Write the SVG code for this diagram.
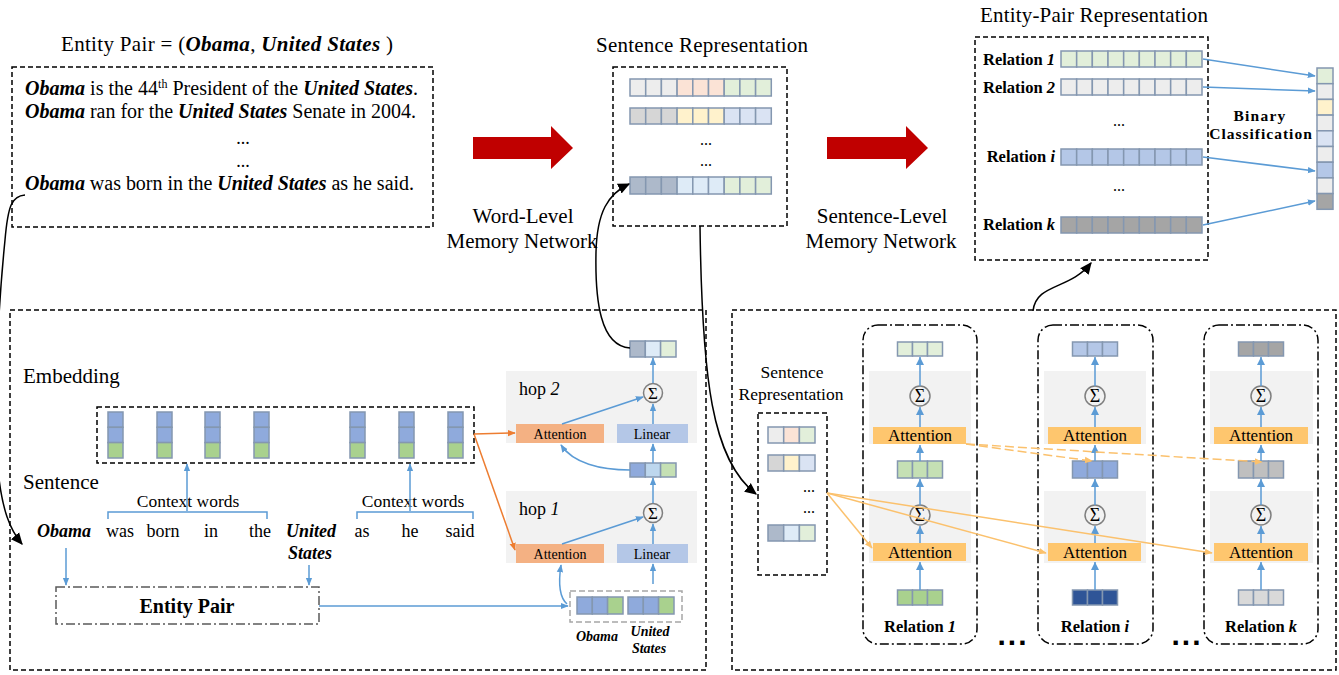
<svg xmlns="http://www.w3.org/2000/svg" width="1339" height="675" viewBox="0 0 1339 675">
<defs>
<style>
text{font-family:"Liberation Serif","Times New Roman",serif;fill:#000}
text.sq{font-family:"Liberation Sans",Arial,sans-serif;font-weight:bold}
.c{stroke:#8497b0;stroke-width:1.5}
.dash{fill:none;stroke:#000;stroke-width:1.5;stroke-dasharray:5 3}
.dd{fill:none;stroke:#000;stroke-width:1.5;stroke-dasharray:9 3 2 3}
.ddg{fill:none;stroke:#595959;stroke-width:1.5;stroke-dasharray:9 3 2 3}
.gd{fill:none;stroke:#a6a6a6;stroke-width:1.5;stroke-dasharray:6 3}
.blue{fill:none;stroke:#5b9bd5;stroke-width:1.5}
.or{fill:none;stroke:#ed7d31;stroke-width:1.5}
.lo{fill:none;stroke:#fbc16d;stroke-width:1.5}
.lod{fill:none;stroke:#fbc16d;stroke-width:1.5;stroke-dasharray:9 4}
.blk{fill:none;stroke:#000;stroke-width:1.5}
.panel{fill:#f2f2f2}
.att{fill:#f4b183}
.lin{fill:#b4c7e7}
.att2{fill:#fec66e}
.sig{fill:none;stroke:#7f7f7f;stroke-width:1.5}
.b{font-weight:bold}
.i{font-style:italic}
.bi{font-weight:bold;font-style:italic}
.red{fill:#c00000}
</style>
<marker id="mb" viewBox="0 0 10 10" refX="9" refY="5" markerWidth="8" markerHeight="8" markerUnits="userSpaceOnUse" orient="auto"><path d="M0,1 L10,5 L0,9 z" fill="#5b9bd5"/></marker>
<marker id="mo" viewBox="0 0 10 10" refX="9" refY="5" markerWidth="8" markerHeight="8" markerUnits="userSpaceOnUse" orient="auto"><path d="M0,1 L10,5 L0,9 z" fill="#ed7d31"/></marker>
<marker id="ml" viewBox="0 0 10 10" refX="9" refY="5" markerWidth="8" markerHeight="8" markerUnits="userSpaceOnUse" orient="auto"><path d="M0,1 L10,5 L0,9 z" fill="#fbc16d"/></marker>
<marker id="mk" viewBox="0 0 10 10" refX="9" refY="5" markerWidth="12" markerHeight="12" markerUnits="userSpaceOnUse" orient="auto"><path d="M0,0.5 L10,5 L0,9.5 z" fill="#000"/></marker>
</defs>
<rect width="1339" height="675" fill="#fff"/>

<!-- sentence bag -->
<g id="bag">
<text x="61" y="51" font-size="21" textLength="332" lengthAdjust="spacing">Entity  Pair = (<tspan class="bi">Obama</tspan>, <tspan class="bi">United States</tspan> )</text>
<rect class="dash" x="12" y="67" width="421" height="160"/>
<text x="25" y="95" font-size="20" textLength="393" lengthAdjust="spacing"><tspan class="bi">Obama</tspan> is the 44<tspan font-size="12" dy="-7">th</tspan><tspan dy="7"> President of the </tspan><tspan class="bi">United States</tspan>.</text>
<text x="25" y="118" font-size="20" textLength="391" lengthAdjust="spacing"><tspan class="bi">Obama</tspan> ran for the <tspan class="bi">United States</tspan> Senate in 2004.</text>
<text x="243" y="144" font-size="18" text-anchor="middle">...</text>
<text x="243" y="167" font-size="18" text-anchor="middle">...</text>
<text x="25" y="190" font-size="20" textLength="389" lengthAdjust="spacing"><tspan class="bi">Obama</tspan> was born in the <tspan class="bi">United States</tspan> as he said.</text>
</g>

<!-- flow arrows -->
<g id="flow">
<polygon class="red" points="473,137 551,137 551,126 573,148 551,169 551,159 473,159"/>
<polygon class="red" points="827,137 906,137 906,126 928,148 906,169 906,159 827,159"/>
<text x="523" y="223" font-size="21" text-anchor="middle">Word-Level</text>
<text x="522" y="248" font-size="21" text-anchor="middle">Memory Network</text>
<text x="882" y="223" font-size="21" text-anchor="middle">Sentence-Level</text>
<text x="881" y="248" font-size="21" text-anchor="middle">Memory Network</text>
</g>

<!-- sentence representation -->
<g id="sentrep">
<text x="596" y="52" font-size="21" textLength="212" lengthAdjust="spacing">Sentence  Representation</text>
<rect class="dash" x="613" y="67" width="174" height="159"/>
<g class="c">
<rect x="630" y="79" width="15.7" height="17" fill="#ededed"/><rect x="645.7" y="79" width="15.7" height="17" fill="#ededed"/><rect x="661.4" y="79" width="15.7" height="17" fill="#ededed"/>
<rect x="677.1" y="79" width="15.7" height="17" fill="#fbe3d6"/><rect x="692.8" y="79" width="15.7" height="17" fill="#fbe3d6"/><rect x="708.5" y="79" width="15.7" height="17" fill="#fbe3d6"/>
<rect x="724.2" y="79" width="15.7" height="17" fill="#e2efda"/><rect x="739.9" y="79" width="15.7" height="17" fill="#e2efda"/><rect x="755.6" y="79" width="15.7" height="17" fill="#e2efda"/>
<rect x="630" y="108" width="15.7" height="16" fill="#d6d6d6"/><rect x="645.7" y="108" width="15.7" height="16" fill="#d6d6d6"/><rect x="661.4" y="108" width="15.7" height="16" fill="#d6d6d6"/>
<rect x="677.1" y="108" width="15.7" height="16" fill="#fff2cc"/><rect x="692.8" y="108" width="15.7" height="16" fill="#fff2cc"/><rect x="708.5" y="108" width="15.7" height="16" fill="#fff2cc"/>
<rect x="724.2" y="108" width="15.7" height="16" fill="#dae3f3"/><rect x="739.9" y="108" width="15.7" height="16" fill="#dae3f3"/><rect x="755.6" y="108" width="15.7" height="16" fill="#dae3f3"/>
<rect x="630" y="177" width="15.7" height="17" fill="#adb9ca"/><rect x="645.7" y="177" width="15.7" height="17" fill="#adb9ca"/><rect x="661.4" y="177" width="15.7" height="17" fill="#adb9ca"/>
<rect x="677.1" y="177" width="15.7" height="17" fill="#deebf7"/><rect x="692.8" y="177" width="15.7" height="17" fill="#deebf7"/><rect x="708.5" y="177" width="15.7" height="17" fill="#deebf7"/>
<rect x="724.2" y="177" width="15.7" height="17" fill="#e2efda"/><rect x="739.9" y="177" width="15.7" height="17" fill="#e2efda"/><rect x="755.6" y="177" width="15.7" height="17" fill="#e2efda"/>
</g>
<text x="706" y="145" font-size="16" text-anchor="middle">...</text>
<text x="706" y="166" font-size="16" text-anchor="middle">...</text>
</g>

<!-- entity-pair representation -->
<g id="eprep">
<text x="980" y="22" font-size="21" textLength="228" lengthAdjust="spacing">Entity-Pair  Representation</text>
<rect class="dash" x="975" y="37" width="233" height="223"/>
<g class="c">
<rect x="1061" y="51" width="15.67" height="16" fill="#e2efda"/><rect x="1076.67" y="51" width="15.67" height="16" fill="#e2efda"/><rect x="1092.33" y="51" width="15.67" height="16" fill="#e2efda"/><rect x="1108" y="51" width="15.67" height="16" fill="#e2efda"/><rect x="1123.67" y="51" width="15.67" height="16" fill="#e2efda"/><rect x="1139.33" y="51" width="15.67" height="16" fill="#e2efda"/><rect x="1155" y="51" width="15.67" height="16" fill="#e2efda"/><rect x="1170.67" y="51" width="15.67" height="16" fill="#e2efda"/><rect x="1186.33" y="51" width="15.67" height="16" fill="#e2efda"/>
<rect x="1061" y="79" width="15.67" height="16" fill="#ededed"/><rect x="1076.67" y="79" width="15.67" height="16" fill="#ededed"/><rect x="1092.33" y="79" width="15.67" height="16" fill="#ededed"/><rect x="1108" y="79" width="15.67" height="16" fill="#ededed"/><rect x="1123.67" y="79" width="15.67" height="16" fill="#ededed"/><rect x="1139.33" y="79" width="15.67" height="16" fill="#ededed"/><rect x="1155" y="79" width="15.67" height="16" fill="#ededed"/><rect x="1170.67" y="79" width="15.67" height="16" fill="#ededed"/><rect x="1186.33" y="79" width="15.67" height="16" fill="#ededed"/>
<rect x="1061" y="149" width="15.67" height="16" fill="#b4c7e7"/><rect x="1076.67" y="149" width="15.67" height="16" fill="#b4c7e7"/><rect x="1092.33" y="149" width="15.67" height="16" fill="#b4c7e7"/><rect x="1108" y="149" width="15.67" height="16" fill="#b4c7e7"/><rect x="1123.67" y="149" width="15.67" height="16" fill="#b4c7e7"/><rect x="1139.33" y="149" width="15.67" height="16" fill="#b4c7e7"/><rect x="1155" y="149" width="15.67" height="16" fill="#b4c7e7"/><rect x="1170.67" y="149" width="15.67" height="16" fill="#b4c7e7"/><rect x="1186.33" y="149" width="15.67" height="16" fill="#b4c7e7"/>
<rect x="1061" y="217" width="15.67" height="16" fill="#a5a5a5"/><rect x="1076.67" y="217" width="15.67" height="16" fill="#a5a5a5"/><rect x="1092.33" y="217" width="15.67" height="16" fill="#a5a5a5"/><rect x="1108" y="217" width="15.67" height="16" fill="#a5a5a5"/><rect x="1123.67" y="217" width="15.67" height="16" fill="#a5a5a5"/><rect x="1139.33" y="217" width="15.67" height="16" fill="#a5a5a5"/><rect x="1155" y="217" width="15.67" height="16" fill="#a5a5a5"/><rect x="1170.67" y="217" width="15.67" height="16" fill="#a5a5a5"/><rect x="1186.33" y="217" width="15.67" height="16" fill="#a5a5a5"/>
</g>
<g font-size="16.5" text-anchor="end">
<text x="1055" y="65" class="b">Relation <tspan class="bi">1</tspan></text>
<text x="1055" y="93" class="b">Relation <tspan class="bi">2</tspan></text>
<text x="1055" y="162" class="b">Relation <tspan class="bi">i</tspan></text>
<text x="1055" y="230" class="b">Relation <tspan class="bi">k</tspan></text>
</g>
<text x="1119" y="126" font-size="16" text-anchor="middle">...</text>
<text x="1119" y="191" font-size="16" text-anchor="middle">...</text>
</g>

<!-- binary classification vector -->
<g id="binary">
<g class="c">
<rect x="1317" y="68" width="16" height="15.7" fill="#e2efda"/>
<rect x="1317" y="83.7" width="16" height="15.7" fill="#ededed"/>
<rect x="1317" y="99.4" width="16" height="15.7" fill="#fff2cc"/>
<rect x="1317" y="115.1" width="16" height="15.7" fill="#ededed"/>
<rect x="1317" y="130.8" width="16" height="15.7" fill="#dae3f3"/>
<rect x="1317" y="146.5" width="16" height="15.7" fill="#ededed"/>
<rect x="1317" y="162.2" width="16" height="15.7" fill="#b4c7e7"/>
<rect x="1317" y="177.9" width="16" height="15.7" fill="#ededed"/>
<rect x="1317" y="193.6" width="16" height="15.7" fill="#a5a5a5"/>
</g>
<text x="1260" y="121" font-size="15.5" class="b" letter-spacing="1.2" text-anchor="middle">Binary</text>
<text x="1261" y="139" font-size="15.5" class="b" letter-spacing="1" text-anchor="middle">Classification</text>
</g>

<!-- word-level memory network panel -->
<g id="wordnet">
<rect class="dash" x="10" y="310" width="696" height="360"/>
<text x="23" y="383" font-size="21">Embedding</text>
<text x="23" y="489" font-size="21">Sentence</text>
<rect class="dash" x="97" y="407" width="377" height="56"/>
<g class="c">
<rect x="108" y="412" width="15" height="15.3" fill="#8faadc"/><rect x="108" y="427.3" width="15" height="15.3" fill="#8faadc"/><rect x="108" y="442.6" width="15" height="15.4" fill="#a9d18e"/>
<rect x="157" y="412" width="15" height="15.3" fill="#8faadc"/><rect x="157" y="427.3" width="15" height="15.3" fill="#8faadc"/><rect x="157" y="442.6" width="15" height="15.4" fill="#a9d18e"/>
<rect x="205" y="412" width="15" height="15.3" fill="#8faadc"/><rect x="205" y="427.3" width="15" height="15.3" fill="#8faadc"/><rect x="205" y="442.6" width="15" height="15.4" fill="#a9d18e"/>
<rect x="254" y="412" width="15" height="15.3" fill="#8faadc"/><rect x="254" y="427.3" width="15" height="15.3" fill="#8faadc"/><rect x="254" y="442.6" width="15" height="15.4" fill="#a9d18e"/>
<rect x="350" y="412" width="15" height="15.3" fill="#8faadc"/><rect x="350" y="427.3" width="15" height="15.3" fill="#8faadc"/><rect x="350" y="442.6" width="15" height="15.4" fill="#a9d18e"/>
<rect x="399" y="412" width="15" height="15.3" fill="#8faadc"/><rect x="399" y="427.3" width="15" height="15.3" fill="#8faadc"/><rect x="399" y="442.6" width="15" height="15.4" fill="#a9d18e"/>
<rect x="448" y="412" width="15" height="15.3" fill="#8faadc"/><rect x="448" y="427.3" width="15" height="15.3" fill="#8faadc"/><rect x="448" y="442.6" width="15" height="15.4" fill="#a9d18e"/>
</g>
<text x="188" y="507" font-size="17.5" text-anchor="middle">Context words</text>
<text x="413" y="507" font-size="17.5" text-anchor="middle">Context words</text>
<path class="blue" d="M108,519 V512 H267 V519 M357,519 V512 H473 V519"/>
<g font-size="18" text-anchor="middle">
<text x="64" y="537" class="bi">Obama</text>
<text x="120" y="537">was</text>
<text x="163" y="537">born</text>
<text x="211" y="537">in</text>
<text x="260" y="537">the</text>
<text x="311" y="537" class="bi">United</text>
<text x="310" y="559" class="bi">States</text>
<text x="362" y="537">as</text>
<text x="410" y="537">he</text>
<text x="460" y="537">said</text>
</g>
<rect class="ddg" x="56" y="587" width="263" height="37"/>
<text x="187" y="613" font-size="20" class="b" text-anchor="middle">Entity Pair</text>
</g>

<!-- hop 2 -->
<g id="hop2">
<rect class="panel" x="506" y="371" width="191" height="72"/>
<text x="519" y="395" font-size="18">hop <tspan class="i">2</tspan></text>
<circle class="sig" cx="653" cy="393" r="9.5"/>
<text x="653" y="399" font-size="17" text-anchor="middle">Σ</text>
<rect class="att" x="516" y="424" width="88" height="19"/>
<text x="560" y="439" font-size="14" text-anchor="middle">Attention</text>
<rect class="lin" x="617" y="424" width="71" height="19"/>
<text x="652" y="439" font-size="14" text-anchor="middle">Linear</text>
</g>

<!-- hop 1 -->
<g id="hop1">
<rect class="panel" x="506" y="491" width="191" height="72"/>
<text x="519" y="515" font-size="18">hop <tspan class="i">1</tspan></text>
<circle class="sig" cx="653" cy="513" r="9.5"/>
<text x="653" y="519" font-size="17" text-anchor="middle">Σ</text>
<rect class="att" x="516" y="544" width="88" height="19"/>
<text x="560" y="559" font-size="14" text-anchor="middle">Attention</text>
<rect class="lin" x="617" y="544" width="71" height="19"/>
<text x="652" y="559" font-size="14" text-anchor="middle">Linear</text>
</g>

<!-- hop vectors -->
<g id="hopvec">
<g class="c">
<rect x="630" y="341" width="15.3" height="16" fill="#adb9ca"/><rect x="645.3" y="341" width="15.3" height="16" fill="#deebf7"/><rect x="660.6" y="341" width="15.4" height="16" fill="#e2efda"/>
<rect x="630" y="463" width="15.3" height="14" fill="#8faadc"/><rect x="645.3" y="463" width="15.3" height="14" fill="#bdd7ee"/><rect x="660.6" y="463" width="15.4" height="14" fill="#c5e0b4"/>
</g>
</g>

<!-- entity pair query vector -->
<g id="query">
<rect class="gd" x="570" y="591" width="112" height="31"/>
<g class="c">
<rect x="577" y="597" width="15.3" height="17" fill="#8faadc"/><rect x="592.3" y="597" width="15.3" height="17" fill="#8faadc"/><rect x="607.6" y="597" width="15.4" height="17" fill="#a9d18e"/>
<rect x="628" y="597" width="15.3" height="17" fill="#8faadc"/><rect x="643.3" y="597" width="15.3" height="17" fill="#8faadc"/><rect x="658.6" y="597" width="15.4" height="17" fill="#a9d18e"/>
</g>
<text x="597" y="641" font-size="14" class="bi" text-anchor="middle">Obama</text>
<text x="650" y="636" font-size="14" class="bi" text-anchor="middle">United</text>
<text x="649" y="653" font-size="14" class="bi" text-anchor="middle">States</text>
</g>

<!-- sentence-level memory network panel -->
<g id="sentnet">
<rect class="dash" x="732" y="310" width="604" height="360"/>
<text x="792" y="378" font-size="17.5" text-anchor="middle">Sentence</text>
<text x="791" y="400" font-size="17.5" text-anchor="middle">Representation</text>
<rect class="dash" x="758" y="413" width="69" height="162"/>
<g class="c">
<rect x="768" y="427" width="15.7" height="16" fill="#ededed"/><rect x="783.7" y="427" width="15.7" height="16" fill="#fbe3d6"/><rect x="799.4" y="427" width="15.6" height="16" fill="#e2efda"/>
<rect x="768" y="455" width="15.7" height="16" fill="#d6d6d6"/><rect x="783.7" y="455" width="15.7" height="16" fill="#fff2cc"/><rect x="799.4" y="455" width="15.6" height="16" fill="#dae3f3"/>
<rect x="768" y="525" width="15.7" height="16" fill="#adb9ca"/><rect x="783.7" y="525" width="15.7" height="16" fill="#deebf7"/><rect x="799.4" y="525" width="15.6" height="16" fill="#e2efda"/>
</g>
<text x="809" y="492" font-size="16" text-anchor="middle">...</text>
<text x="809" y="513" font-size="16" text-anchor="middle">...</text>
<text class="sq" x="1012" y="645" font-size="30" text-anchor="middle" textLength="29" lengthAdjust="spacing">...</text>
<text class="sq" x="1186" y="645" font-size="30" text-anchor="middle" textLength="29" lengthAdjust="spacing">...</text>
</g>

<!-- relation 1 -->
<g id="rel1">
<rect class="dd" x="863" y="325" width="114" height="319" rx="15"/>
<rect class="panel" x="869" y="371" width="102" height="73"/>
<rect class="panel" x="869" y="491" width="102" height="72"/>
<g class="c">
<rect x="897.5" y="342" width="15" height="14" fill="#e2efda"/><rect x="912.5" y="342" width="15" height="14" fill="#e2efda"/><rect x="927.5" y="342" width="15" height="14" fill="#e2efda"/>
<rect x="897.5" y="461" width="15" height="17" fill="#c5e0b4"/><rect x="912.5" y="461" width="15" height="17" fill="#c5e0b4"/><rect x="927.5" y="461" width="15" height="17" fill="#c5e0b4"/>
<rect x="897.5" y="590" width="15" height="15" fill="#a9d18e"/><rect x="912.5" y="590" width="15" height="15" fill="#a9d18e"/><rect x="927.5" y="590" width="15" height="15" fill="#a9d18e"/>
</g>
<circle class="sig" cx="920" cy="396" r="10"/>
<text x="920" y="402" font-size="18" text-anchor="middle">Σ</text>
<circle class="sig" cx="920" cy="515" r="10"/>
<text x="920" y="521" font-size="18" text-anchor="middle">Σ</text>
<rect class="att2" x="873" y="427" width="93" height="17"/>
<text x="920" y="441" font-size="17" text-anchor="middle">Attention</text>
<rect class="att2" x="873" y="543" width="93" height="18"/>
<text x="920" y="558" font-size="17" text-anchor="middle">Attention</text>
<text x="920" y="632" font-size="16.5" class="b" text-anchor="middle">Relation <tspan class="bi">1</tspan></text>
</g>

<!-- relation i -->
<g id="reli">
<rect class="dd" x="1038" y="325" width="115" height="319" rx="15"/>
<rect class="panel" x="1044" y="371" width="102" height="73"/>
<rect class="panel" x="1044" y="491" width="102" height="72"/>
<g class="c">
<rect x="1072.5" y="342" width="15" height="14" fill="#b4c7e7"/><rect x="1087.5" y="342" width="15" height="14" fill="#b4c7e7"/><rect x="1102.5" y="342" width="15" height="14" fill="#b4c7e7"/>
<rect x="1072.5" y="461" width="15" height="17" fill="#8faadc"/><rect x="1087.5" y="461" width="15" height="17" fill="#8faadc"/><rect x="1102.5" y="461" width="15" height="17" fill="#8faadc"/>
<rect x="1072.5" y="590" width="15" height="15" fill="#2f5597"/><rect x="1087.5" y="590" width="15" height="15" fill="#2f5597"/><rect x="1102.5" y="590" width="15" height="15" fill="#2f5597"/>
</g>
<circle class="sig" cx="1095" cy="396" r="10"/>
<text x="1095" y="402" font-size="18" text-anchor="middle">Σ</text>
<circle class="sig" cx="1095" cy="515" r="10"/>
<text x="1095" y="521" font-size="18" text-anchor="middle">Σ</text>
<rect class="att2" x="1048" y="427" width="93" height="17"/>
<text x="1095" y="441" font-size="17" text-anchor="middle">Attention</text>
<rect class="att2" x="1048" y="543" width="93" height="18"/>
<text x="1095" y="558" font-size="17" text-anchor="middle">Attention</text>
<text x="1095" y="632" font-size="16.5" class="b" text-anchor="middle">Relation <tspan class="bi">i</tspan></text>
</g>

<!-- relation k -->
<g id="relk">
<rect class="dd" x="1204" y="325" width="114" height="319" rx="15"/>
<rect class="panel" x="1210" y="371" width="103" height="73"/>
<rect class="panel" x="1210" y="491" width="103" height="72"/>
<g class="c">
<rect x="1238.5" y="342" width="15" height="14" fill="#a5a5a5"/><rect x="1253.5" y="342" width="15" height="14" fill="#a5a5a5"/><rect x="1268.5" y="342" width="15" height="14" fill="#a5a5a5"/>
<rect x="1238.5" y="461" width="15" height="17" fill="#bfbfbf"/><rect x="1253.5" y="461" width="15" height="17" fill="#bfbfbf"/><rect x="1268.5" y="461" width="15" height="17" fill="#bfbfbf"/>
<rect x="1238.5" y="590" width="15" height="15" fill="#d9d9d9"/><rect x="1253.5" y="590" width="15" height="15" fill="#d9d9d9"/><rect x="1268.5" y="590" width="15" height="15" fill="#d9d9d9"/>
</g>
<circle class="sig" cx="1261" cy="396" r="10"/>
<text x="1261" y="402" font-size="18" text-anchor="middle">Σ</text>
<circle class="sig" cx="1261" cy="515" r="10"/>
<text x="1261" y="521" font-size="18" text-anchor="middle">Σ</text>
<rect class="att2" x="1214" y="427" width="94" height="17"/>
<text x="1261" y="441" font-size="17" text-anchor="middle">Attention</text>
<rect class="att2" x="1214" y="543" width="94" height="18"/>
<text x="1261" y="558" font-size="17" text-anchor="middle">Attention</text>
<text x="1261" y="632" font-size="16.5" class="b" text-anchor="middle">Relation <tspan class="bi">k</tspan></text>
</g>

<!-- connectors -->
<g id="connectors">
<!-- black flow curves -->
<path class="blk" d="M25,195 C12,196 8,205 5,240 C-4,330 -6,420 -2,470 C2,510 10,530 22,544" marker-end="url(#mk)"/>
<path class="blk" d="M630,348 C600,346 595,300 596,252 C597,212 608,194 629,184" marker-end="url(#mk)"/>
<path class="blk" d="M700,226 C702,380 712,460 756,494" marker-end="url(#mk)"/>
<path class="blk" d="M1033,311 C1036,283 1070,290 1091,263" marker-end="url(#mk)"/>
<!-- relation rows to binary vector -->
<path class="blue" d="M1203,59 L1315,76" marker-end="url(#mb)"/>
<path class="blue" d="M1203,87 L1315,91" marker-end="url(#mb)"/>
<path class="blue" d="M1203,157 L1315,171" marker-end="url(#mb)"/>
<path class="blue" d="M1203,225 L1315,201" marker-end="url(#mb)"/>
<!-- word-level panel -->
<path class="blue" d="M187,511 V464" marker-end="url(#mb)"/>
<path class="blue" d="M410,511 V464" marker-end="url(#mb)"/>
<path class="blue" d="M66,548 V585" marker-end="url(#mb)"/>
<path class="blue" d="M309,565 V585" marker-end="url(#mb)"/>
<path class="blue" d="M319,606 H568" marker-end="url(#mb)"/>
<path class="blue" d="M567,604 C558,596 559,578 561,565" marker-end="url(#mb)"/>
<path class="blue" d="M653,584 V564" marker-end="url(#mb)"/>
<path class="blue" d="M562,544 L643,517" marker-end="url(#mb)"/>
<path class="blue" d="M653,544 V524" marker-end="url(#mb)"/>
<path class="blue" d="M653,503 V478" marker-end="url(#mb)"/>
<path class="blue" d="M653,463 V444" marker-end="url(#mb)"/>
<path class="blue" d="M630,470 C600,470 573,463 561,445" marker-end="url(#mb)"/>
<path class="blue" d="M562,424 L643,397" marker-end="url(#mb)"/>
<path class="blue" d="M653,424 V404" marker-end="url(#mb)"/>
<path class="blue" d="M653,383 V358" marker-end="url(#mb)"/>
<path class="or" d="M474,434 L515,433" marker-end="url(#mo)"/>
<path class="or" d="M474,434 L515,550" marker-end="url(#mo)"/>
<!-- sentence-level panel -->
<path class="blue" d="M920,590 V562 M920,543 V526 M920,505 V479 M920,461 V445 M920,427 V407 M920,386 V357"/>
<path class="blue" d="M1095,590 V562 M1095,543 V526 M1095,505 V479 M1095,461 V445 M1095,427 V407 M1095,386 V357"/>
<path class="blue" d="M1261,590 V562 M1261,543 V526 M1261,505 V479 M1261,461 V445 M1261,427 V407 M1261,386 V357"/>
<g fill="#5b9bd5">
<path d="M920,562 l-4,8 h8 z M920,526 l-4,8 h8 z M920,479 l-4,8 h8 z M920,445 l-4,8 h8 z M920,407 l-4,8 h8 z M920,357 l-4,8 h8 z"/>
<path d="M1095,562 l-4,8 h8 z M1095,526 l-4,8 h8 z M1095,479 l-4,8 h8 z M1095,445 l-4,8 h8 z M1095,407 l-4,8 h8 z M1095,357 l-4,8 h8 z"/>
<path d="M1261,562 l-4,8 h8 z M1261,526 l-4,8 h8 z M1261,479 l-4,8 h8 z M1261,445 l-4,8 h8 z M1261,407 l-4,8 h8 z M1261,357 l-4,8 h8 z"/>
</g>
<path class="lo" d="M827,493 L872,548" marker-end="url(#ml)"/>
<path class="lo" d="M827,493 L1046,553" marker-end="url(#ml)"/>
<path class="lo" d="M827,493 L1212,553" marker-end="url(#ml)"/>
<path class="lod" d="M966,444 L1092,461" marker-end="url(#ml)"/>
<path class="lod" d="M966,444 L1262,462" marker-end="url(#ml)"/>
</g>
</svg>
